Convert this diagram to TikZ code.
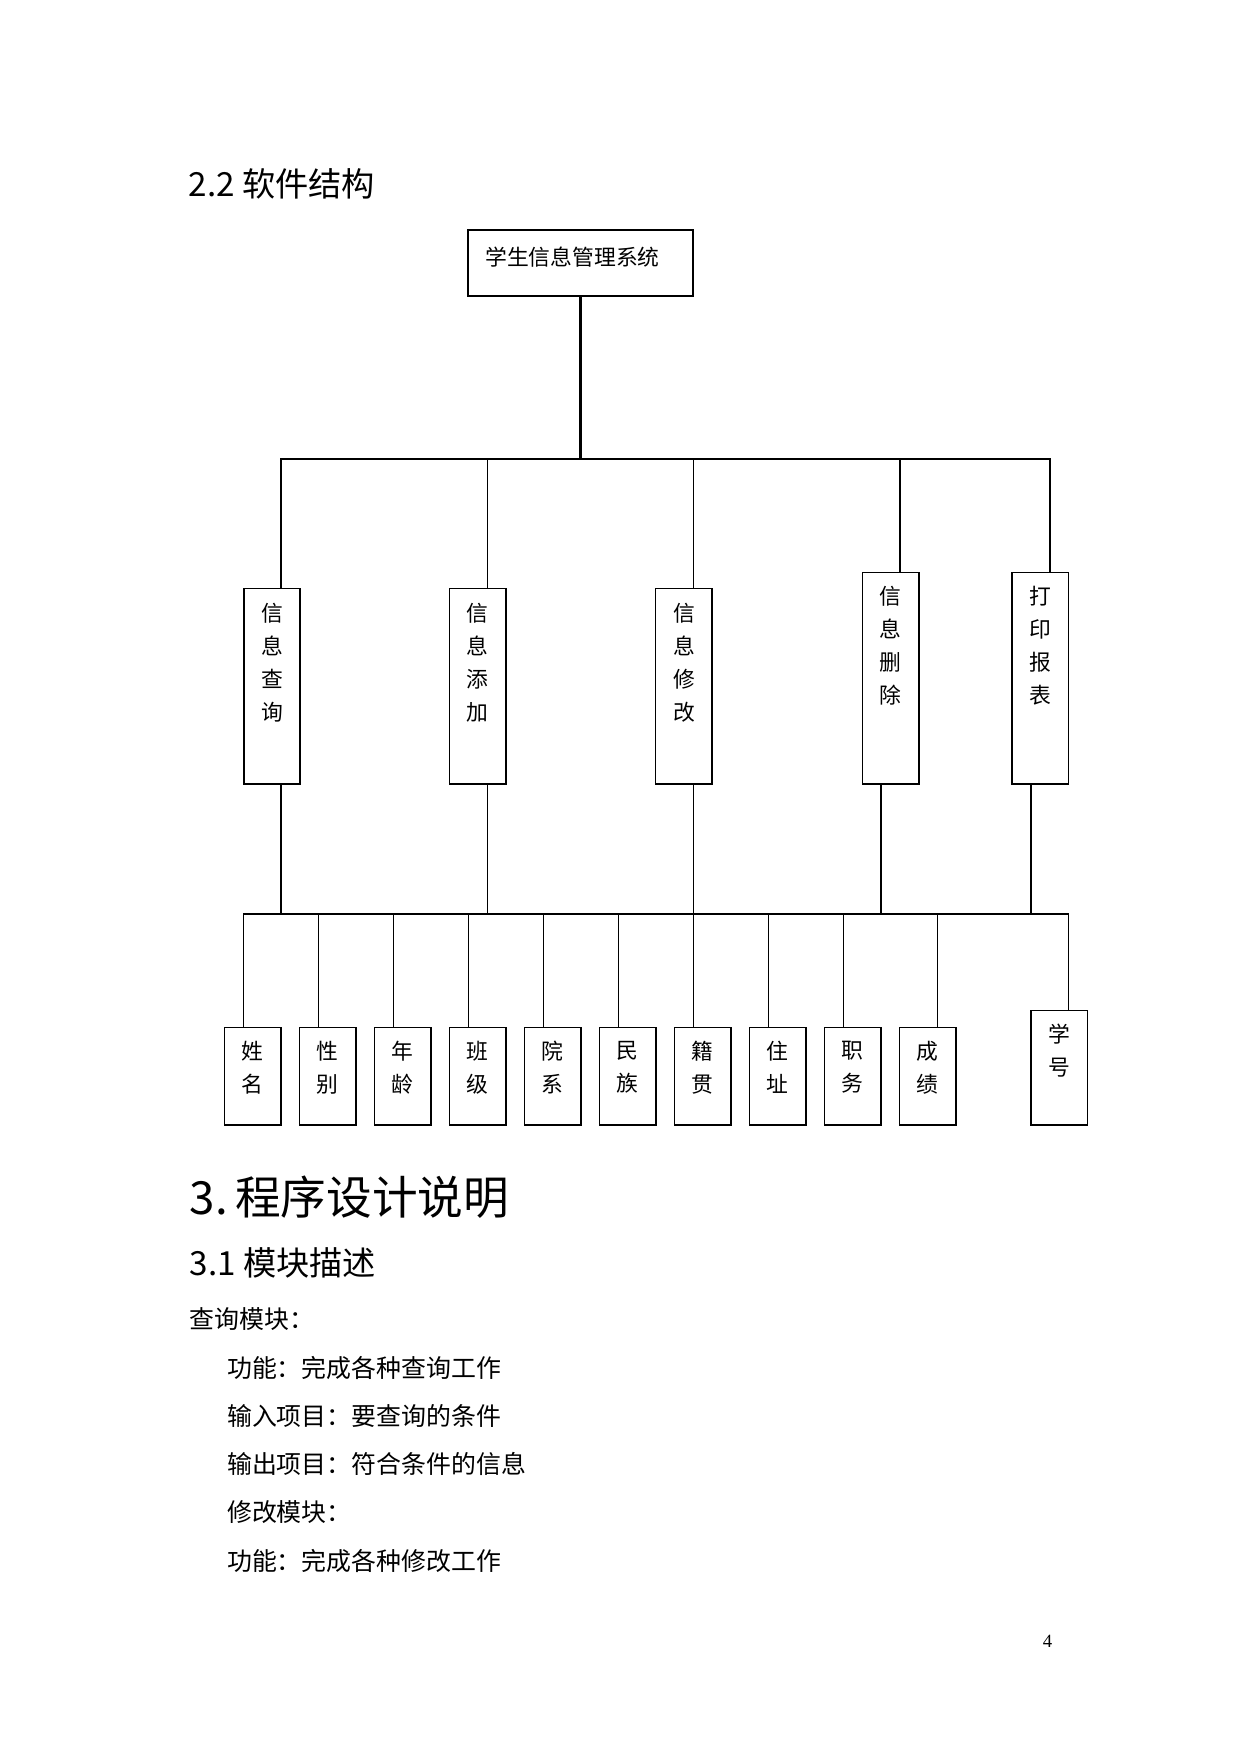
\documentclass[tikz,border=0pt]{standalone}
\usepackage{fontspec}
\setmainfont{Liberation Serif}
\newfontfamily\cjk{Noto Sans CJK SC}
\usetikzlibrary{positioning}

\begin{document}
\begin{tikzpicture}[%
    x=0.16933mm,
    y=-0.16933mm,
    trunk/.style={line width=1pt},
    twig/.style={line width=0.45pt},
    txt/.style={font={\cjk\fontsize{10.5}{15.9}\selectfont}, align=center, inner sep=0},
    head/.style={anchor=west, inner sep=0},
    body/.style={anchor=west, inner sep=0, font={\cjk\fontsize{12}{14}\selectfont}},
    base/.style={draw, line width=0.75pt, inner sep=0},
    sysbox/.style={base, minimum width=38.1mm, minimum height=11.18mm},
    modbox/.style={base, minimum width=9.57mm, minimum height=33.07mm},
    modtall/.style={base, minimum width=9.57mm, minimum height=35.85mm},
    leaf/.style={base, minimum width=9.53mm, minimum height=16.54mm},
    leaftall/.style={base, minimum width=9.53mm, minimum height=19.42mm}
    ]

    \useasboundingbox (0,0) rectangle (1241,1754);

    \node[head, font={\cjk\fontsize{16}{19}\selectfont}] (h22) at (188.3,184) {2.2 软件结构};

    \node at (580.5,263) [sysbox, label={[txt, anchor=north west, xshift=2.98mm, yshift=-2.93mm]north west:学生信息管理系统}] (sys) {};

    \node at (272,686.35) [modbox, label={[txt, anchor=north, yshift=-2.44mm]north:{信\\息\\查\\询}}] (m1) {};
    \node at (477.85,686.35) [modbox, label={[txt, anchor=north, yshift=-2.44mm]north:{信\\息\\添\\加}}] (m2) {};
    \node at (683.9,686.35) [modbox, label={[txt, anchor=north, yshift=-2.44mm]north:{信\\息\\修\\改}}] (m3) {};
    \node at (890.55,678.15) [modtall, label={[txt, anchor=north, yshift=-2.44mm]north:{信\\息\\删\\除}}] (m4) {};
    \node at (1040.45,678.15) [modtall, label={[txt, anchor=north, yshift=-2.44mm]north:{打\\印\\报\\表}}] (m5) {};

    \coordinate (hub) at (580.5,459);
    \coordinate (hub2) at (650,914);

    \draw[trunk] (sys.south) -- (hub);
    \draw[trunk] ([xshift=1.6mm]m1.north) |- (hub) -| ([xshift=1.6mm]m5.north);
    \draw[twig] ([xshift=1.6mm]m2.north) -- ([xshift=1.6mm]m2.north |- hub);
    \draw[twig] ([xshift=1.6mm]m3.north) -- ([xshift=1.6mm]m3.north |- hub);
    \draw[trunk] ([xshift=1.6mm]m4.north) -- ([xshift=1.6mm]m4.north |- hub);

    % fields
    \foreach \a/\b [count=\i from 0] in {姓/名,性/别,年/龄,班/级,院/系,民/族,籍/贯,住/址,职/务,成/绩}
        \node at (252.7+75*\i,1076.15) [leaf, label={[txt, anchor=north, yshift=-2.44mm]north:{\a\\\b}}] (b\i) {};
    \node at (1059.15,1067.65) [leaftall, label={[txt, anchor=north, yshift=-2.44mm]north:{学\\号}}] (xh) {};

    \draw[trunk] ([xshift=-1.6mm]b0.north |- hub2) -- ([xshift=1.6mm]xh.north |- hub2);
    \draw[trunk] ([xshift=1.6mm]m1.south) -- ([xshift=1.6mm]m1.south |- hub2);
    \draw[twig] ([xshift=1.6mm]m2.south) -- ([xshift=1.6mm]m2.south |- hub2);
    \draw[twig] ([xshift=1.6mm]m3.south) -- ([xshift=1.6mm]m3.south |- hub2);
    \draw[trunk] ([xshift=-1.6mm]m4.south) -- ([xshift=-1.6mm]m4.south |- hub2);
    \draw[trunk] ([xshift=-1.6mm]m5.south) -- ([xshift=-1.6mm]m5.south |- hub2);

    \foreach \i in {0,...,8}
        \draw[twig] ([xshift=-1.6mm]b\i.north) -- ([xshift=-1.6mm]b\i.north |- hub2);
    \draw[twig] ([xshift=1.6mm]b9.north) -- ([xshift=1.6mm]b9.north |- hub2);
    \draw[twig] ([xshift=1.6mm]xh.north) -- ([xshift=1.6mm]xh.north |- hub2);

    \node[head, font={\cjk\fontsize{22}{26}\selectfont}] (h3) at (189.3,1197) {3.\hspace{3.5pt}程序设计说明};
    \node[head, font={\cjk\fontsize{16}{19}\selectfont}] (h31) at (189.3,1263) {3.1 模块描述};

    \node[body] (l1) at (189.3,1319) {查询模块：};
    \node[body] (l2) at (226.7,1367.5) {功能：完成各种查询工作};
    \node[body] (l3) at (226.7,1416) {输入项目：要查询的条件};
    \node[body] (l4) at (226.7,1464) {输出项目：符合条件的信息};
    \node[body] (l5) at (226.7,1512.5) {修改模块：};
    \node[body] (l6) at (226.7,1561) {功能：完成各种修改工作};

    \node[font={\fontsize{9}{11}\selectfont}, inner sep=0] (pg) at (1047.5,1641) {4};

\end{tikzpicture}
\end{document}
